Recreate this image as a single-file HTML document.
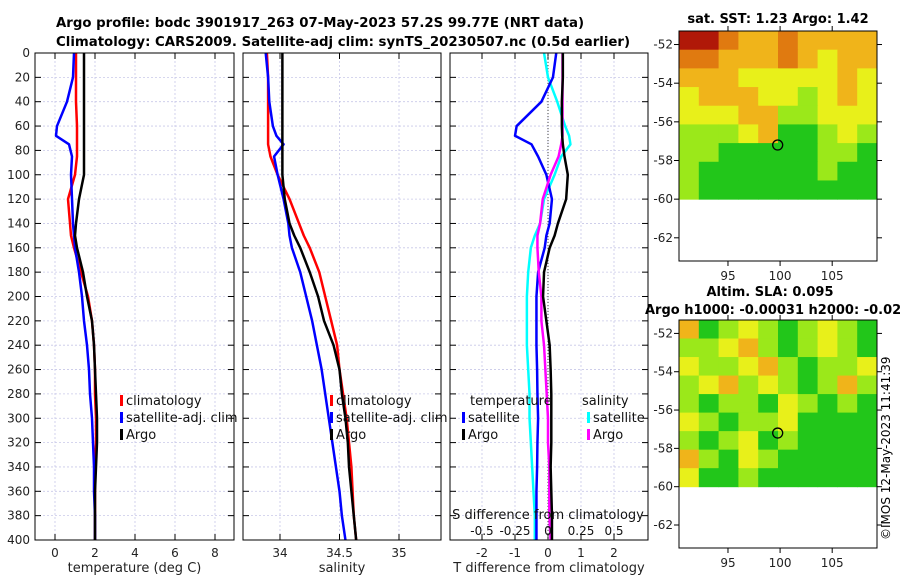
<!DOCTYPE html>
<html><head><meta charset="utf-8"><style>
body{margin:0;background:#fff;width:900px;height:580px;overflow:hidden}
svg{font-family:"DejaVu Sans","Liberation Sans",sans-serif}
</style></head><body>
<svg id="fig" width="900" height="580" viewBox="0 0 900 580" xmlns="http://www.w3.org/2000/svg">
<text x="56" y="27" font-size="13.3" font-weight="bold">Argo profile: bodc 3901917_263 07-May-2023 57.2S 99.77E (NRT data)</text>
<text x="56" y="46" font-size="13.3" font-weight="bold">Climatology: CARS2009. Satellite-adj clim: synTS_20230507.nc (0.5d earlier)</text>
<text x="778" y="23" font-size="13" font-weight="bold" text-anchor="middle">sat. SST: 1.23 Argo: 1.42</text>
<text x="770" y="296" font-size="13" font-weight="bold" text-anchor="middle">Altim. SLA: 0.095</text>
<text x="645" y="314" font-size="13" font-weight="bold">Argo h1000: -0.00031 h2000: -0.02</text>
<text transform="translate(890,540) rotate(-90)" font-size="12">©IMOS 12-May-2023 11:41:39</text>
</svg>
<script>
// ---- data ----
const depths = [0,20,40,60,68,75,85,100,120,140,150,160,180,200,220,240,260,280,300,320,340,360,380,400];
const tempArgo = [1.45,1.45,1.45,1.45,1.45,1.45,1.45,1.45,1.2,1.05,1.0,1.1,1.4,1.6,1.85,1.95,2.0,2.05,2.1,2.1,2.05,2.0,2.0,2.0];
const tempClim = [1.05,1.05,1.05,1.1,1.1,1.1,1.1,1.0,0.65,0.75,0.8,0.95,1.3,1.65,1.85,1.95,2.0,2.0,2.05,2.05,2.0,2.0,2.0,2.0];
const tempSat = [0.95,0.9,0.6,0.1,0.05,0.7,0.85,0.8,0.85,0.9,0.95,1.0,1.2,1.35,1.45,1.6,1.7,1.75,1.85,1.9,1.95,1.95,2.0,2.0];
const salArgo = [34.02,34.02,34.02,34.02,34.02,34.02,34.02,34.02,34.04,34.08,34.12,34.17,34.25,34.32,34.37,34.45,34.5,34.52,34.55,34.57,34.58,34.6,34.62,34.64];
const salClim = [33.89,33.9,33.9,33.9,33.9,33.9,33.92,33.98,34.08,34.16,34.2,34.25,34.33,34.38,34.43,34.48,34.5,34.53,34.56,34.58,34.6,34.61,34.62,34.64];
const salSat = [33.88,33.9,33.91,33.94,33.97,34.03,33.95,33.98,34.03,34.07,34.08,34.1,34.17,34.22,34.27,34.31,34.35,34.38,34.41,34.44,34.47,34.5,34.52,34.55];
const tDiffSat = [0.25,0.15,-0.2,-0.95,-1.0,-0.5,-0.3,-0.05,0.12,0.05,-0.05,-0.1,-0.3,-0.35,-0.35,-0.35,-0.33,-0.32,-0.3,-0.32,-0.33,-0.35,-0.35,-0.35];
const tDiffArgo = [0.45,0.45,0.42,0.42,0.43,0.45,0.5,0.6,0.55,0.3,0.2,0.05,-0.12,-0.15,-0.05,0.05,0.08,0.1,0.1,0.1,0.08,0.1,0.12,0.12];
const sDiffSat = [-0.03,0,0.07,0.13,0.16,0.17,0.1,0.05,-0.03,-0.06,-0.1,-0.13,-0.15,-0.16,-0.16,-0.16,-0.15,-0.14,-0.14,-0.13,-0.12,-0.11,-0.1,-0.1];
const sDiffArgo = [0.11,0.11,0.11,0.11,0.11,0.1,0.08,0.02,-0.04,-0.06,-0.08,-0.08,-0.07,-0.05,-0.05,-0.03,-0.02,-0.01,0,0,0.01,0.01,0.01,0.02];
const depthTicks = [0,20,40,60,80,100,120,140,160,180,200,220,240,260,280,300,320,340,360,380,400];
const tempTicks = [0,2,4,6,8];
const salTicks = [34,34.5,35];
const salTickLabels = ["34","34.5","35"];
const tDiffTicks = [-2,-1,0,1,2];
const sDiffTicks = [-0.5,-0.25,0,0.25,0.5];
const sDiffTickLabels = ["-0.5","-0.25","0","0.25","0.5"];
const sstGrid = [
[5,5,4,3,3,4,3,3,3,3],[4,4,3,3,3,4,3,2,3,3],[3,3,3,2,2,2,2,2,3,2],
[2,3,3,3,2,2,1,2,3,2],[2,2,2,3,3,1,1,2,2,2],[1,1,1,2,3,0,0,1,2,1],
[1,1,0,0,0,0,0,1,1,0],[1,0,0,0,0,0,0,1,0,0],[1,0,0,0,0,0,0,0,0,0]];
const slaGrid = [
[3,0,1,2,1,0,1,2,1,0],[1,1,2,3,1,0,1,2,1,0],[2,1,1,2,3,1,0,1,1,2],
[1,2,3,1,2,1,0,1,3,1],[1,0,1,1,0,2,1,0,1,0],[2,1,0,1,1,2,0,0,0,0],
[1,0,1,2,0,1,0,0,0,0],[3,1,0,2,1,0,0,0,0,0],[2,0,0,1,0,0,0,0,0,0]];
const argoLon = 99.77, argoLat = -57.2;

const NS="http://www.w3.org/2000/svg";
const svg=document.getElementById('fig');
function mk(tag,attrs,parent){const e=document.createElementNS(NS,tag);for(const k in attrs)e.setAttribute(k,attrs[k]);(parent||svg).appendChild(e);return e;}
const T=53,B=540;
const yD=d=>T+(d/400)*(B-T);
function lin(d0,d1,r0,r1){return v=>r0+(v-d0)/(d1-d0)*(r1-r0);}

function panel(name,x0,x1,xs,xticks,xlabels,xtitle){
  const g=mk('g',{});
  
  
  xticks.forEach(t=>{mk('line',{x1:xs(t),x2:xs(t),y1:T,y2:B,stroke:'#c8c8e8','stroke-width':0.8,'stroke-dasharray':'2,2'},g);});
  depthTicks.forEach(d=>{mk('line',{x1:x0,x2:x1,y1:yD(d),y2:yD(d),stroke:'#c8c8e8','stroke-width':0.8,'stroke-dasharray':'2,2'},g);
    mk('line',{x1:x0,x2:x0+6,y1:yD(d),y2:yD(d),stroke:'#000'},g);mk('line',{x1:x1-6,x2:x1,y1:yD(d),y2:yD(d),stroke:'#000'},g);});
  xticks.forEach((t,i)=>{mk('line',{x1:xs(t),x2:xs(t),y1:B,y2:B-6,stroke:'#000'},g);mk('line',{x1:xs(t),x2:xs(t),y1:T,y2:T+6,stroke:'#000'},g);
    const tx=mk('text',{x:xs(t),y:B+17,'font-size':12,'text-anchor':'middle',fill:'#222'},g);tx.textContent=xlabels[i];
    });
  const tt=mk('text',{x:(x0+x1)/2,y:B+32,'font-size':13,'text-anchor':'middle',fill:'#222'},g);tt.textContent=xtitle;
  
  return g;
}
function line(g,xs,vals,color,name,w){
  const p=mk('polyline',{points:vals.map((v,i)=>xs(v)+','+yD(depths[i])).join(' '),fill:'none',stroke:color,'stroke-width':w||2.5,'stroke-linejoin':'round'},g);
  
}
function frame(g,x0,x1){const r=mk('rect',{x:x0,y:T,width:x1-x0,height:B-T,fill:'none',stroke:'#000','stroke-width':1},g);}
function legend(g,x,y,color,label){
  mk('rect',{x:x,y:y-10,width:3,height:11,fill:color},g);
  const t=mk('text',{x:x+6,y:y,'font-size':13,fill:'#111'},g);t.textContent=label;
  
}

const xT=lin(0,2,55,95);
let g=panel('temperature-panel',35,234,xT,tempTicks,tempTicks.map(String),'temperature (deg C)');
line(g,xT,tempClim,'#f00','temp-climatology-line');
line(g,xT,tempSat,'#00f','temp-satellite-line');
line(g,xT,tempArgo,'#000','temp-argo-line');
frame(g,35,234);
depthTicks.forEach(d=>{const t=mk('text',{x:30,y:yD(d)+4,'font-size':12,'text-anchor':'end',fill:'#222'},g);t.textContent=d;
  });
legend(g,120,405,'#f00','climatology');legend(g,120,422,'#00f','satellite-adj. clim');legend(g,120,439,'#000','Argo');

const xS=lin(34,35,280,399);
g=panel('salinity-panel',243,441,xS,salTicks,salTickLabels,'salinity');
line(g,xS,salClim,'#f00','sal-climatology-line');
line(g,xS,salSat,'#00f','sal-satellite-line');
line(g,xS,salArgo,'#000','sal-argo-line');
frame(g,243,441);
legend(g,330,405,'#f00','climatology');legend(g,330,422,'#00f','satellite-adj. clim');legend(g,330,439,'#000','Argo');

const xTd=lin(0,2,548,614);
const xSd=lin(0,0.5,548,614);
g=panel('difference-panel',450,648,xTd,tDiffTicks,tDiffTicks.map(String),'T difference from climatology');
mk('line',{x1:xTd(0),x2:xTd(0),y1:T,y2:B,stroke:'#444','stroke-dasharray':'1,2','stroke-width':1},g);
line(g,xSd,sDiffSat,'#0ff','sdiff-satellite-line');
line(g,xTd,tDiffSat,'#00f','tdiff-satellite-line');
line(g,xSd,sDiffArgo,'#f0f','sdiff-argo-line');
line(g,xTd,tDiffArgo,'#000','tdiff-argo-line');
frame(g,450,648);
let st=mk('text',{x:548,y:519,'font-size':13,'text-anchor':'middle',fill:'#111'},g);st.textContent='S difference from climatology';

sDiffTicks.forEach((t,i)=>{const tx=mk('text',{x:xSd(t),y:535,'font-size':12,'text-anchor':'middle',fill:'#111'},g);tx.textContent=sDiffTickLabels[i];
  });
st=mk('text',{x:470,y:405,'font-size':13,fill:'#111'},g);st.textContent='temperature';
st=mk('text',{x:582,y:405,'font-size':13,fill:'#111'},g);st.textContent='salinity';
legend(g,462,422,'#00f','satellite');legend(g,462,439,'#000','Argo');
legend(g,587,422,'#0ff','satellite');legend(g,587,439,'#f0f','Argo');

const palette=['#22c61a','#9be81a','#e8f01a','#f0b41a','#e07a10','#b01808'];
function map(name,grid,top,bottom){
  const x0=679,x1=877;
  const lonX=lin(90.3,109.3,x0,x1);
  const latY=lin(-51.3,-63.2,top,bottom);
  const mg=mk('g',{});
  
  
  const rows=grid.length,cols=grid[0].length;
  const dLat=(-60+51.3)/rows,dLon=19/cols;
  grid.forEach((row,r)=>row.forEach((v,c)=>{
    const ya=latY(-51.3+r*dLat),yb=latY(-51.3+(r+1)*dLat);
    const xa=lonX(90.3+c*dLon),xb=lonX(90.3+(c+1)*dLon);
    const cell=mk('rect',{x:xa,y:ya,width:xb-xa+0.5,height:yb-ya+0.5,fill:palette[v]},mg);
    
    
  }));
  mk('rect',{x:x0,y:top,width:x1-x0,height:bottom-top,fill:'none',stroke:'#000'},mg);
  [-52,-54,-56,-58,-60,-62].forEach(l=>{const y=latY(l);
    mk('line',{x1:x0-5,x2:x0,y1:y,y2:y,stroke:'#000'},mg);mk('line',{x1:x1,x2:x1+5,y1:y,y2:y,stroke:'#000'},mg);
    const t=mk('text',{x:x0-6,y:y+4,'font-size':12,'text-anchor':'end',fill:'#222'},mg);t.textContent=l;
    });
  [95,100,105].forEach(l=>{const x=lonX(l);
    mk('line',{x1:x,x2:x,y1:bottom,y2:bottom+5,stroke:'#000'},mg);mk('line',{x1:x,x2:x,y1:top-5,y2:top,stroke:'#000'},mg);
    const t=mk('text',{x:x,y:bottom+19,'font-size':12,'text-anchor':'middle',fill:'#222'},mg);t.textContent=l;
    });
  const m=mk('circle',{cx:lonX(argoLon),cy:latY(argoLat),r:5,fill:'none',stroke:'#000','stroke-width':1.3},mg);
  
}
map('sst-map',sstGrid,31,261);
map('sla-map',slaGrid,320,548);
</script>
</body></html>
